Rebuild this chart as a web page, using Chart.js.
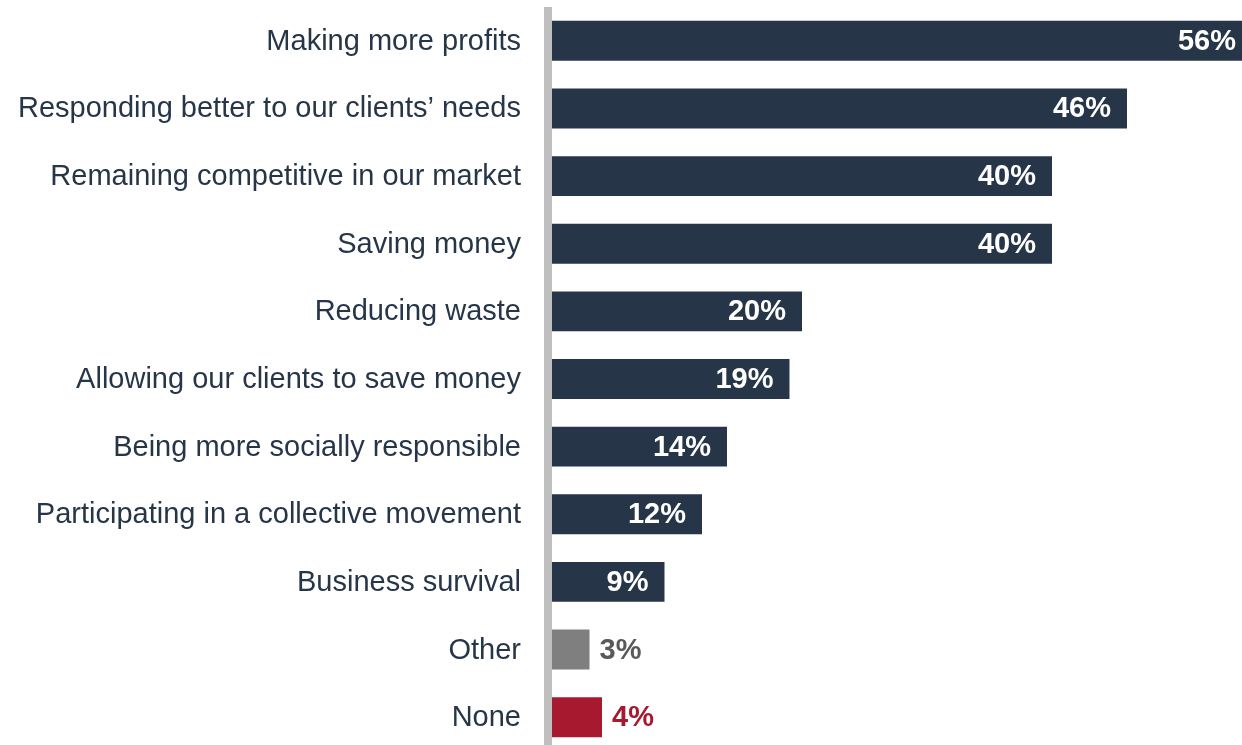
<!DOCTYPE html>
<html>
<head>
<meta charset="utf-8">
<script src="https://cdn.jsdelivr.net/npm/chart.js@4/dist/chart.umd.min.js"></script>
<style>
  html, body { margin: 0; padding: 0; background: #ffffff; overflow: hidden; }
  canvas { display: block; }
</style>
</head>
<body>
<canvas id="chart" width="1242" height="752"></canvas>
<script>
const categories = [
  "Making more profits",
  "Responding better to our clients\u2019 needs",
  "Remaining competitive in our market",
  "Saving money",
  "Reducing waste",
  "Allowing our clients to save money",
  "Being more socially responsible",
  "Participating in a collective movement",
  "Business survival",
  "Other",
  "None"
]
const shares = [56, 46, 40, 40, 20, 19, 14, 12, 9, 3, 4]

const NAVY = "#263648"
const GREY = "#7f7f7f"
const RED = "#a6192e"
const barColors = shares.map((v, i) => i === 9 ? GREY : i === 10 ? RED : NAVY)
const valueColors = shares.map((v, i) => i === 9 ? "#595959" : i === 10 ? RED : "#ffffff")

const FONT = "'Liberation Sans', Arial, Helvetica, sans-serif"

// thick grey baseline to the left of the bars
const baseline = {
  id: "baseline",
  afterDraw(chart) {
    const { ctx, chartArea } = chart
    ctx.save()
    ctx.fillStyle = "#bfbfbf"
    ctx.fillRect(chartArea.left - 8, chartArea.top, 8, chartArea.bottom - chartArea.top)
    ctx.restore()
  }
}

// percentage labels: inside the bar end for long bars, after the bar for short ones
const valueLabels = {
  id: "valueLabels",
  afterDatasetsDraw(chart) {
    const { ctx } = chart
    const meta = chart.getDatasetMeta(0)
    ctx.save()
    ctx.font = `bold 29px ${FONT}`
    ctx.textBaseline = "middle"
    meta.data.forEach((bar, i) => {
      const text = shares[i] + "%"
      ctx.fillStyle = valueColors[i]
      if (i >= 9) {
        ctx.textAlign = "left"
        ctx.fillText(text, bar.x + 10, bar.y + 1)
      } else {
        ctx.textAlign = "right"
        ctx.fillText(text, bar.x - 16, bar.y + 1)
      }
    })
    ctx.restore()
  }
}

new Chart(document.getElementById("chart"), {
  type: "bar",
  data: {
    labels: categories,
    datasets: [{
      data: shares,
      backgroundColor: barColors,
      borderWidth: 0,
      barPercentage: 0.59,
      categoryPercentage: 1
    }]
  },
  options: {
    indexAxis: "y",
    responsive: false,
    animation: false,
    layout: { padding: { top: 7, bottom: 1, left: 0, right: 0 } },
    plugins: {
      legend: { display: false },
      tooltip: { enabled: false }
    },
    scales: {
      x: {
        display: false,
        min: 0,
        max: 55.2
      },
      y: {
        grid: { display: false, drawTicks: false },
        border: { display: false },
        afterFit: (scale) => {
          scale.width = 552
          scale.paddingTop = 0
          scale.paddingBottom = 0
        },
        ticks: {
          padding: 31,
          labelOffset: 1,
          color: NAVY,
          font: { family: FONT, size: 29 }
        }
      }
    }
  },
  plugins: [baseline, valueLabels]
})
</script>
</body>
</html>
